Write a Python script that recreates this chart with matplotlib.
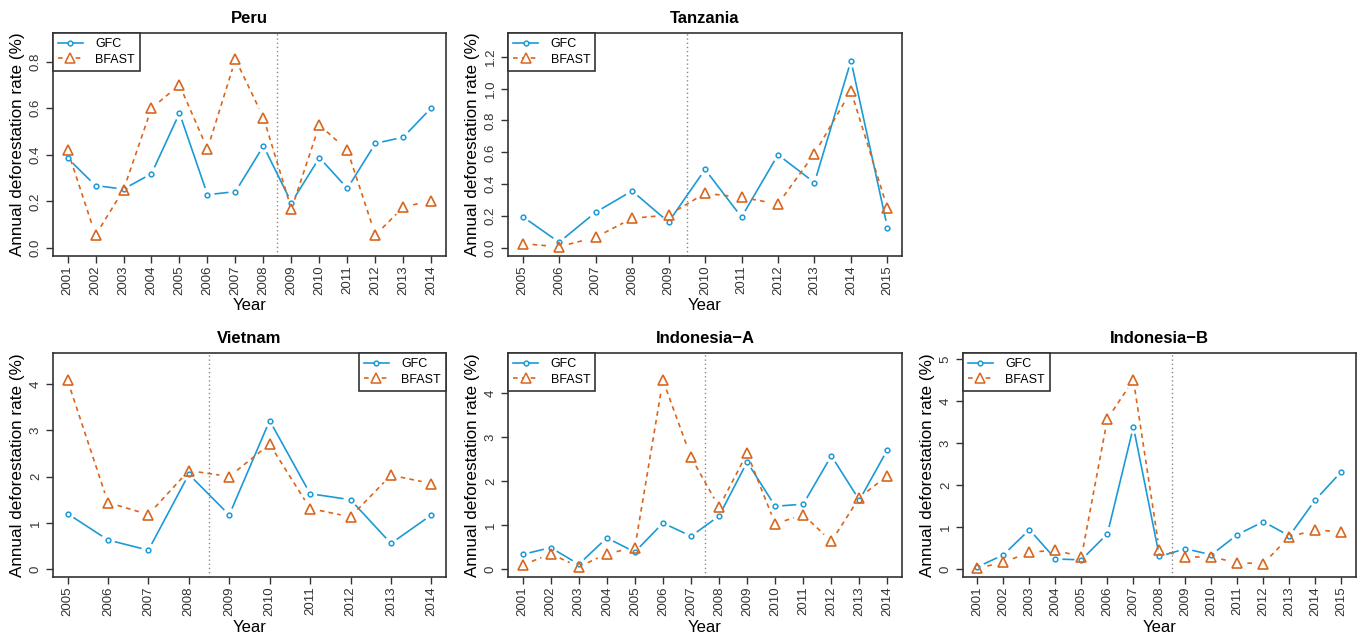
import matplotlib
matplotlib.use("Agg")
import matplotlib.pyplot as plt
from matplotlib.lines import Line2D

plt.rcParams['font.family'] = ['Liberation Sans', 'DejaVu Sans']

GFC_COL = '#1b9ad6'
BFAST_COL = '#d9661e'
AX_COL = '#333333'

# ---- data ----
peru_years = list(range(2001, 2015))
peru_gfc = [0.386, 0.268, 0.253, 0.319, 0.579, 0.229, 0.242, 0.438, 0.195, 0.388, 0.256, 0.449, 0.476, 0.602]
peru_bfast = [0.42, 0.055, 0.25, 0.60, 0.70, 0.425, 0.81, 0.56, 0.167, 0.528, 0.42, 0.056, 0.176, 0.203]

tanz_years = list(range(2005, 2016))
tanz_gfc = [0.197, 0.036, 0.224, 0.358, 0.163, 0.493, 0.194, 0.585, 0.41, 1.175, 0.128]
tanz_bfast = [0.027, 0.008, 0.067, 0.186, 0.207, 0.343, 0.318, 0.276, 0.592, 0.985, 0.249]

viet_years = list(range(2005, 2015))
viet_gfc = [1.20, 0.63, 0.41, 2.05, 1.17, 3.21, 1.63, 1.50, 0.555, 1.17]
viet_bfast = [4.08, 1.44, 1.18, 2.13, 2.00, 2.70, 1.31, 1.13, 2.03, 1.85]

indA_years = list(range(2001, 2015))
indA_gfc = [0.334, 0.49, 0.11, 0.71, 0.39, 1.05, 0.75, 1.21, 2.44, 1.43, 1.48, 2.58, 1.57, 2.72]
indA_bfast = [0.09, 0.35, 0.05, 0.35, 0.49, 4.30, 2.55, 1.41, 2.64, 1.03, 1.24, 0.63, 1.63, 2.13]

indB_years = list(range(2001, 2016))
indB_gfc = [0.05, 0.34, 0.94, 0.24, 0.22, 0.84, 3.39, 0.30, 0.485, 0.34, 0.82, 1.13, 0.79, 1.65, 2.32]
indB_bfast = [0.02, 0.16, 0.40, 0.45, 0.29, 3.58, 4.51, 0.45, 0.29, 0.29, 0.15, 0.13, 0.77, 0.93, 0.89]

# panel setup: title, data, break year, y ticks, y limits, legend location, axes rect
panels = [
    ("Peru", peru_years, peru_gfc, peru_bfast, 2008.5,
     [0.0, 0.2, 0.4, 0.6, 0.8], "%.1f", (-0.034, 0.923), "upper left",
     [0.0389, 0.5969, 0.2885, 0.3512]),
    ("Tanzania", tanz_years, tanz_gfc, tanz_bfast, 2009.5,
     [0.0, 0.2, 0.4, 0.6, 0.8, 1.0, 1.2], "%.1f", (-0.05, 1.349), "upper left",
     [0.3730, 0.5969, 0.2893, 0.3512]),
    ("Vietnam", viet_years, viet_gfc, viet_bfast, 2008.5,
     [0, 1, 2, 3, 4], "%d", (-0.17, 4.67), "upper right",
     [0.0389, 0.0913, 0.2885, 0.3528]),
    ("Indonesia\u2212A", indA_years, indA_gfc, indA_bfast, 2007.5,
     [0, 1, 2, 3, 4], "%d", (-0.18, 4.92), "upper left",
     [0.3730, 0.0913, 0.2893, 0.3528]),
    ("Indonesia\u2212B", indB_years, indB_gfc, indB_bfast, 2008.5,
     [0, 1, 2, 3, 4, 5], "%d", (-0.19, 5.15), "upper left",
     [0.7070, 0.0913, 0.2885, 0.3528]),
]

DASH = (0, (2.8, 2.5))
LW = 1.2


def gapped_line(ax, xs, ys, gap, **kw):
    # R type="b": segments stop short of the points
    tr = ax.transData
    inv = tr.inverted()
    for i in range(len(xs) - 1):
        p0 = tr.transform((xs[i], ys[i]))
        p1 = tr.transform((xs[i + 1], ys[i + 1]))
        d = p1 - p0
        n = (d[0] ** 2 + d[1] ** 2) ** 0.5
        if n <= 2 * gap:
            continue
        u = d / n
        a = inv.transform(p0 + u * gap)
        b = inv.transform(p1 - u * gap)
        ax.plot([a[0], b[0]], [a[1], b[1]], solid_capstyle='butt',
                dash_capstyle='butt', **kw)


fig = plt.figure(figsize=(13.62, 6.35), dpi=100)

for title, years, gfc, bfast, brk, yt, fmt, ylim, loc, rect in panels:
    ax = fig.add_axes(rect)
    ext = 0.04 * (years[-1] - years[0])
    ax.set_xlim(years[0] - ext, years[-1] + ext)
    ax.set_ylim(*ylim)

    ax.axvline(brk, color='#888888', linestyle=(0, (1, 2)), linewidth=1.0, zorder=1)

    gapped_line(ax, years, gfc, 7, color=GFC_COL, linewidth=LW, zorder=2)
    ax.plot(years, gfc, linestyle='none', marker='o', markersize=3.4,
            markerfacecolor='none', markeredgecolor=GFC_COL, markeredgewidth=1.1, zorder=3)
    gapped_line(ax, years, bfast, 10, color=BFAST_COL, linewidth=LW,
                linestyle=DASH, zorder=2)
    ax.plot(years, bfast, linestyle='none', marker='^', markersize=7.5,
            markerfacecolor='none', markeredgecolor=BFAST_COL, markeredgewidth=1.2, zorder=3)

    ax.set_xticks(years)
    ax.set_xticklabels([str(y) for y in years], rotation=90, fontsize=9.5, color=AX_COL)
    ax.set_yticks(yt)
    ax.set_yticklabels([fmt % v for v in yt], rotation=90, fontsize=9.5, color=AX_COL, va='center')
    ax.tick_params(axis='x', length=5, width=1, color=AX_COL, pad=2)
    ax.tick_params(axis='y', length=5, width=1, color=AX_COL, pad=3)
    for s in ax.spines.values():
        s.set_color(AX_COL)
        s.set_linewidth(1.2)

    ax.set_title(title, fontsize=12, fontweight='bold', pad=7)
    ax.set_xlabel("Year", fontsize=12)
    ax.xaxis.set_label_coords(0.5, -0.19)
    ax.set_ylabel("Annual deforestation rate (%)", fontsize=12.3)
    ax.yaxis.set_label_coords(-0.072, 0.5)

    handles = [
        Line2D([], [], color=GFC_COL, linewidth=LW, marker='o', markersize=3.4,
               markerfacecolor='white', markeredgecolor=GFC_COL, markeredgewidth=1.1),
        Line2D([], [], color=BFAST_COL, linewidth=LW, linestyle=DASH, marker='^',
               markersize=6.5, markerfacecolor='white', markeredgecolor=BFAST_COL, markeredgewidth=1.1),
    ]
    leg = ax.legend(handles, ["GFC", "BFAST"], loc=loc, fontsize=9, fancybox=False,
                    borderaxespad=0, borderpad=0.4, handlelength=2.0, handletextpad=1.0,
                    labelspacing=0.3, framealpha=1, edgecolor=AX_COL)
    leg.get_frame().set_linewidth(1.2)

fig.savefig("out.png", dpi=100)
